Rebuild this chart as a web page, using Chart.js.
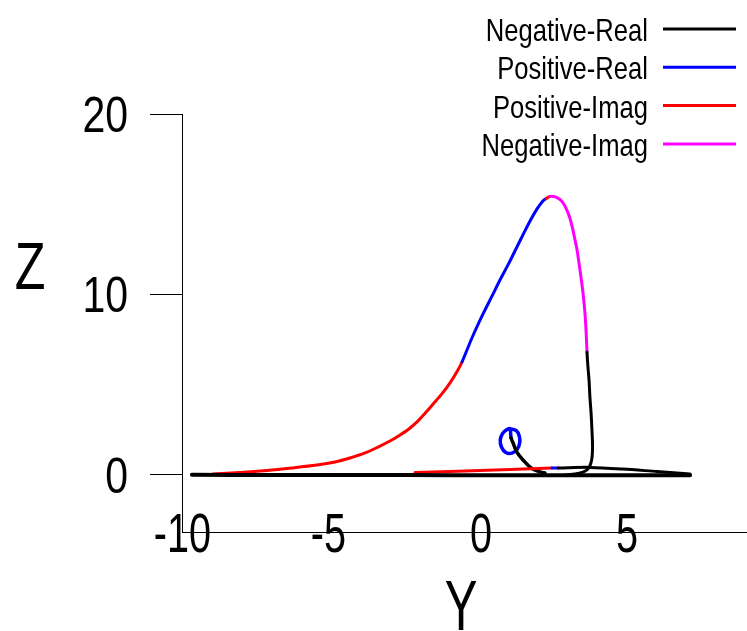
<!DOCTYPE html>
<html><head><meta charset="utf-8">
<script src="https://cdn.jsdelivr.net/npm/chart.js@4.4.0/dist/chart.umd.min.js"></script>
<style>html,body{margin:0;padding:0;background:#fff;overflow:hidden}
#wrap{width:747px;height:631px;position:relative}</style>
</head><body><div id="wrap"><canvas id="c" width="747" height="631"></canvas></div>
<script>
const FONT = '"Liberation Sans", Arial, sans-serif';
const seriesNames = ['Negative-Real', 'Positive-Real', 'Positive-Imag', 'Negative-Imag'];
const seriesColors = ['#000000', '#0000ff', '#ff0000', '#ff00ff'];
const xTicks = [-10, -5, 0, 5];
const xTickLabels = ['-10', '-5', '0', '5'];
const yTicks = [0, 10, 20];
const yTickLabels = ['0', '10', '20'];
const xTitle = 'Y';
const yTitle = 'Z';

// Trajectory pieces: Y, Z and the series (0..3) of the segment starting at each point
const baseY = [-9.90, -7.0, -4.0, -1.0, 2.0, 5.0, 7.16];
const baseZ = [0.01, 0.0, 0.0, -0.01, -0.02, -0.02, -0.02];
const baseKind = [0, 0, 0, 0, 0, 0, 0];

const humpY = [-9.18, -8.25, -7.33, -6.47, -5.62, -5.00, -4.49, -3.97, -3.56, -3.12, -2.77, -2.47, -2.19, -1.92, -1.64, -1.34, -1.06, -0.82,
  -0.65, -0.31, 0.07, 0.38, 0.65, 0.96, 1.23, 1.47, 1.68, 1.92, 2.12,
  2.23,
  2.36, 2.50, 2.60, 2.71, 2.81, 2.91, 3.01, 3.08, 3.15, 3.22, 3.29, 3.39, 3.49, 3.56, 3.60,
  3.63, 3.66, 3.70, 3.73, 3.77, 3.80, 3.82, 3.80, 3.73, 3.63, 3.46, 3.22, 2.88];
const humpZ = [0.06, 0.14, 0.25, 0.39, 0.55, 0.72, 0.94, 1.22, 1.52, 1.88, 2.22, 2.55, 2.94, 3.41, 3.93, 4.49, 5.10, 5.73,
  6.26, 7.59, 8.92, 9.92, 10.80, 11.75, 12.63, 13.41, 14.07, 14.74, 15.18,
  15.32,
  15.43, 15.43, 15.37, 15.26, 15.07, 14.79, 14.40, 14.02, 13.57, 13.02, 12.47, 11.36, 10.14, 8.98, 7.92,
  6.81, 6.04, 5.26, 4.32, 3.43, 2.49, 1.55, 0.94, 0.50, 0.28, 0.14, 0.06, 0.00];
const humpKind = [2, 2, 2, 2, 2, 2, 2, 2, 2, 2, 2, 2, 2, 2, 2, 2, 2, 2,
  1, 1, 1, 1, 1, 1, 1, 1, 1, 1, 1,
  2,
  3, 3, 3, 3, 3, 3, 3, 3, 3, 3, 3, 3, 3, 3, 3,
  0, 0, 0, 0, 0, 0, 0, 0, 0, 0, 0, 0, 0];

const loopY = [0.99, 1.21, 1.31, 1.33, 1.24, 1.06, 0.85, 0.70, 0.66, 0.74, 0.89, 0.99, 1.03, 1.10, 1.23, 1.44, 1.68, 1.92, 2.19];
const loopZ = [2.56, 2.46, 2.16, 1.81, 1.42, 1.21, 1.24, 1.55, 1.95, 2.30, 2.52, 2.56, 2.05, 1.77, 1.27, 0.83, 0.44, 0.22, 0.11];
const loopKind = [1, 1, 1, 1, 1, 1, 1, 1, 1, 1, 1, 1, 0, 0, 0, 0, 0, 0, 0];

const lowY = [-2.26, -1.06, -0.03, 0.99, 2.43, 2.64, 3.73, 4.86, 6.03, 7.16];
const lowZ = [0.13, 0.19, 0.25, 0.30, 0.39, 0.39, 0.42, 0.33, 0.19, 0.06];
const lowKind = [2, 2, 2, 2, 1, 0, 0, 0, 0, 0];

const pieces = [
  [baseY, baseZ, baseKind, 4, 0.2],
  [humpY, humpZ, humpKind, 3, 0.3],
  [lowY, lowZ, lowKind, 3, 0.3],
  [loopY, loopZ, loopKind, 3.5, 0.4]
];

const datasets = pieces.map(([ys, zs, kinds, w, t]) => ({
  label: seriesNames[kinds[0]],
  data: ys.map((y, i) => ({ x: y, y: zs[i] })),
  showLine: true,
  borderColor: seriesColors[kinds[0]],
  segment: { borderColor: ctx => seriesColors[kinds[ctx.p0DataIndex]] },
  borderWidth: w,
  pointRadius: 0,
  tension: t,
  fill: false,
  borderCapStyle: 'round',
  borderJoinStyle: 'round'
}));

function drawText(ctx, text, x, y, size, sx, align) {
  ctx.save();
  ctx.translate(x, y);
  ctx.scale(sx, 1);
  ctx.font = size + 'px ' + FONT;
  ctx.textAlign = align;
  ctx.textBaseline = 'alphabetic';
  ctx.fillText(text, 0, 0);
  ctx.restore();
}

const decor = {
  id: 'decor',
  afterDraw(chart) {
    const ctx = chart.ctx;
    const xs = chart.scales.x, ys = chart.scales.y;
    ctx.save();
    ctx.fillStyle = '#000';
    xs.ticks.forEach(t => {
      const lbl = xTickLabels[xTicks.indexOf(t.value)];
      const px = xs.getPixelForValue(t.value);
      let off = 0;
      if (lbl.startsWith('-')) {
        ctx.font = '55px ' + FONT;
        off = ctx.measureText('-').width * 0.72 / 2;
      }
      drawText(ctx, lbl, px - off, xs.top + 20, 55, 0.72, 'center');
    });
    ys.ticks.forEach(t => {
      const lbl = yTickLabels[yTicks.indexOf(t.value)];
      const py = ys.getPixelForValue(t.value);
      drawText(ctx, lbl, 128, py + 18, 50, 0.82, 'right');
    });
    drawText(ctx, yTitle, 30, 289, 67, 0.75, 'center');
    drawText(ctx, xTitle, 461, 630, 70, 0.7, 'center');
    for (let i = 0; i < seriesNames.length; i++) {
      const y = 29 + i * 38.3;
      drawText(ctx, seriesNames[i], 648, y + 12, 32, 0.8, 'right');
      ctx.strokeStyle = seriesColors[i];
      ctx.lineWidth = 3;
      ctx.beginPath();
      ctx.moveTo(663, y);
      ctx.lineTo(736, y);
      ctx.stroke();
    }
    ctx.restore();
  }
};

new Chart(document.getElementById('c'), {
  type: 'scatter',
  data: { datasets: datasets },
  options: {
    responsive: false,
    animation: false,
    devicePixelRatio: 1,
    layout: { padding: { top: 114, right: 0, left: 0, bottom: 0 } },
    plugins: { legend: { display: false }, tooltip: { enabled: false } },
    scales: {
      x: {
        type: 'linear',
        min: -10.24,
        max: 9.11,
        afterBuildTicks: s => { s.ticks = xTicks.map(v => ({ value: v })); },
        afterFit: s => { s.height = 99; },
        grid: { display: false, drawTicks: false },
        border: { display: true, color: '#000', width: 1 },
        ticks: { display: false }
      },
      y: {
        type: 'linear',
        min: -3.16,
        max: 20,
        afterBuildTicks: s => { s.ticks = yTicks.map(v => ({ value: v })); },
        afterFit: s => { s.width = 182; },
        grid: { display: true, drawOnChartArea: false, drawTicks: true, tickLength: 32, color: '#000', lineWidth: 1 },
        border: { display: true, color: '#000', width: 1 },
        ticks: { display: false }
      }
    }
  },
  plugins: [decor]
});
</script>
</body></html>
